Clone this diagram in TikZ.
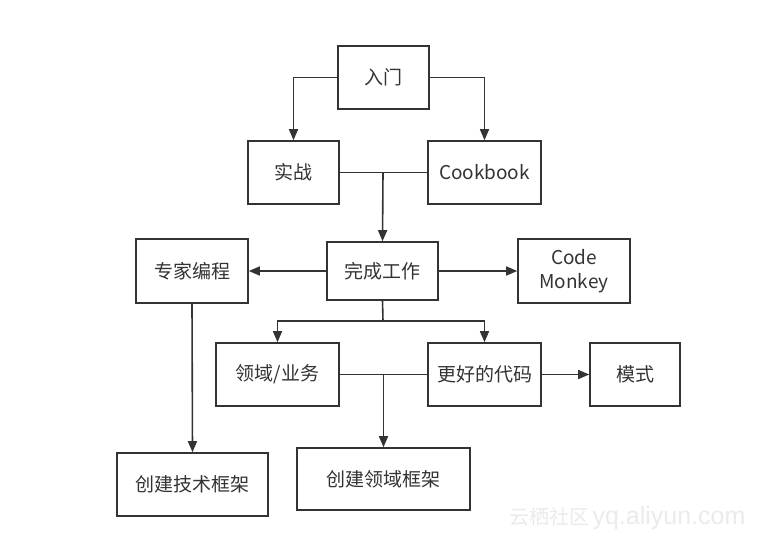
\documentclass[tikz,border=0pt]{standalone}
\usepackage{fontspec}
\setmainfont{Noto Sans CJK SC}
\newfontfamily\wmlatin{Liberation Sans}
\usetikzlibrary{arrows.meta}
\definecolor{ink}{HTML}{333333}
\definecolor{wm}{HTML}{EBEBEB}
\tikzset{
  box/.style={draw=ink, line width=1.6pt, text=ink, inner sep=0pt, align=center,
    font=\fontsize{19}{24}\selectfont},
  conn/.style={draw=ink, line width=1.6pt},
  arr/.style={conn, -{Triangle[length=11pt,width=9pt]}}
}
\begin{document}
\begin{tikzpicture}[x=1pt,y=-1pt]
\useasboundingbox[fill=white] (0,0) rectangle (774,541);
\node[box, minimum width=91pt, minimum height=63pt] (rumen) at (383.5,77.5) {入门};
\node[box, minimum width=91pt, minimum height=63pt] (shizhan) at (293.5,172.5) {实战};
\node[box, minimum width=113pt, minimum height=63pt] (cook) at (484.5,172.5) {Cookbook};
\node[box, minimum width=112pt, minimum height=64pt] (zhuanjia) at (192,271) {专家编程};
\node[box, minimum width=111pt, minimum height=58pt] (wancheng) at (382.5,271) {完成工作};
\node[box, minimum width=112pt, minimum height=64pt] (monkey) at (574,271) {Code\\Monkey};
\node[box, minimum width=123pt, minimum height=63pt] (lingyu) at (277.5,374.5) {领域/业务};
\node[box, minimum width=113pt, minimum height=63pt] (genghao) at (484.5,374.5) {更好的代码};
\node[box, minimum width=90pt, minimum height=63pt] (moshi) at (635,374.5) {模式};
\node[box, minimum width=151pt, minimum height=63pt] (jishu) at (192.5,484.5) {创建技术框架};
\node[box, minimum width=173pt, minimum height=62pt] (lykj) at (383.5,479) {创建领域框架};
\node[text=wm, inner sep=0pt, anchor=west] (wmark) at (509,518)
  {\fontsize{20}{20}\selectfont 云栖社区\,\wmlatin\fontsize{25}{25}\selectfont yq.aliyun.com};

\coordinate (j1) at (383,172.5);
\coordinate (j2) at (383,321);
\coordinate (j3) at (383.5,374.5);

\draw[arr] (rumen.west) -| (shizhan.north);
\draw[arr] (rumen.east) -| (cook.north);
\draw[conn] (shizhan.east) -- (cook.west);
\draw[arr] (j1) -- (wancheng.north);
\draw[arr] (wancheng.west) -- (zhuanjia.east);
\draw[arr] (wancheng.east) -- (monkey.west);
\draw[conn] (wancheng.south) -- (j2);
\draw[arr] (j2) -| (lingyu.north);
\draw[arr] (j2) -| (genghao.north);
\draw[conn] (lingyu.east) -- (genghao.west);
\draw[arr] (j3) -- (lykj.north);
\draw[arr] (genghao.east) -- (moshi.west);
\draw[arr] (zhuanjia.south) -- (jishu.north);
\end{tikzpicture}
\end{document}
